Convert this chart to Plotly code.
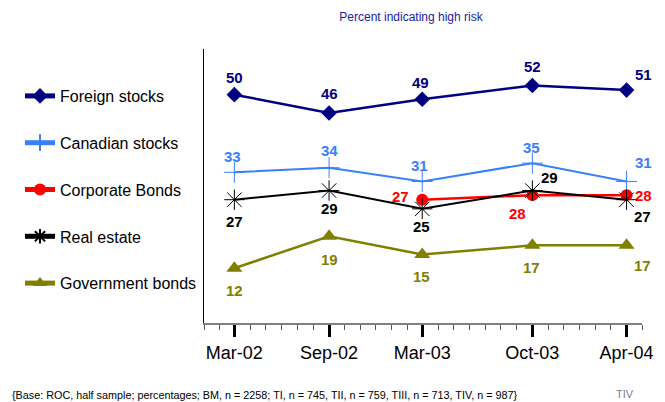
import plotly.graph_objects as go

# Survey waves (plotted on a true monthly time axis)
wave_dates = ["2002-03-01", "2002-09-01", "2003-03-01", "2003-10-01", "2004-04-01"]
wave_labels = ["Mar-02", "Sep-02", "Mar-03", "Oct-03", "Apr-04"]

# Percent indicating high risk, by investment type
foreign_stocks = [50, 46, 49, 52, 51]
canadian_stocks = [33, 34, 31, 35, 31]
corporate_bonds = [None, None, 27, 28, 28]
real_estate = [27, 29, 25, 29, 27]
government_bonds = [12, 19, 15, 17, 17]

series_names = ["Foreign stocks", "Canadian stocks", "Corporate Bonds", "Real estate", "Government bonds"]
series_values = [foreign_stocks, canadian_stocks, corporate_bonds, real_estate, government_bonds]

# Styling per series
colors = ["#000080", "#3a80f8", "#ff0000", "#000000", "#808000"]
symbols = ["diamond", "cross-thin-open", "circle", "asterisk-open", "triangle-up"]
msizes = [12, 15, 12, 17, 14]
lwidths = [2.5, 2, 2.5, 2, 2.5]

# Pixel offsets (dx, dy; screen direction) of each value label from its point
label_offsets = [
    [(0, -17), (0, -19), (-2, -17), (0, -19), (17, -16)],
    [(-2, -16), (0, -17), (-3, -16), (-1, -16), (17, -19)],
    [None, None, (-22, -3), (-15, 18), (17, 0)],
    [(0, 22), (0, 18), (-1, 18), (17, -13), (16, 17)],
    [(0, 22), (0, 23), (-1, 22), (-1, 22), (16, 20)],
]

FONT = "Liberation Sans, Arial, sans-serif"

fig = go.Figure()
annotations = []
for i, (name, vals) in enumerate(zip(series_names, series_values)):
    marker = dict(symbol=symbols[i], size=msizes[i], color=colors[i])
    if symbols[i].endswith("open"):
        marker["line"] = dict(color=colors[i], width=1)
    fig.add_trace(go.Scatter(
        x=wave_dates, y=vals, name=name, mode="lines+markers",
        line=dict(color=colors[i], width=lwidths[i]),
        marker=marker, legendgroup=name, connectgaps=False,
    ))
    for j, v in enumerate(vals):
        if v is None:
            continue
        dx, dy = label_offsets[i][j]
        annotations.append(dict(
            x=wave_dates[j], y=v, xref="x", yref="y", text=str(v),
            showarrow=False, xshift=dx, yshift=-dy,
            font=dict(family=FONT, size=15, color=colors[i], weight="bold"),
        ))

annotations.append(dict(
    x=-0.443, y=-0.263, xref="paper", yref="paper", xanchor="left", yanchor="middle",
    text="{Base: ROC, half sample; percentages; BM, n = 2258; TI, n = 745, TII, n = 759, "
         "TIII, n = 713, TIV, n = 987}",
    showarrow=False, font=dict(family=FONT, size=10.8, color="#000000"),
))
annotations.append(dict(
    x=0.936, y=-0.259, xref="paper", yref="paper", xanchor="left", yanchor="middle",
    text="TIV", showarrow=False, font=dict(family=FONT, size=11, color="#808080"),
))

x_range = ["2002-01-01", "2004-05-01"]

fig.update_layout(
    width=665, height=402,
    margin=dict(l=204, r=23, t=49, b=79, autoexpand=False),
    paper_bgcolor="white", plot_bgcolor="white",
    title=dict(text="Percent indicating high risk", x=411 / 665, xanchor="center",
               y=1 - 17 / 402, yanchor="middle", yref="container",
               font=dict(family=FONT, size=12, color="#1a1aa8")),
    showlegend=True,
    legend=dict(xref="container", yref="container", x=20 / 665, y=1 - 79 / 402,
                xanchor="left", yanchor="top", tracegroupgap=23, maxheight=400,
                itemsizing="constant",
                font=dict(family=FONT, size=16, color="#000000"),
                bgcolor="rgba(0,0,0,0)", borderwidth=0),
    xaxis=dict(type="date", range=x_range, showgrid=False, zeroline=False,
               showline=True, linecolor="#808080", linewidth=2,
               tickmode="array", tickvals=wave_dates, ticktext=wave_labels,
               ticks="outside", ticklen=12, tickwidth=3, tickcolor="#000000",
               tickfont=dict(family=FONT, size=18, color="#000000"),
               minor=dict(dtick="M1", tick0="2002-01-01", ticks="outside",
                          ticklen=5, tickwidth=1, tickcolor="#555555", showgrid=False)),
    xaxis2=dict(type="date", range=x_range, overlaying="x", anchor="y", side="bottom",
                showgrid=False, zeroline=False, showline=False,
                tickmode="array", tickvals=wave_dates, showticklabels=False,
                ticks="inside", ticklen=9, tickwidth=3, tickcolor="#000000"),
    yaxis=dict(range=[0, 60], showgrid=False, zeroline=False, showline=True,
               linecolor="#000000", linewidth=1, ticks="", showticklabels=False),
    annotations=annotations,
)

fig.write_html("out.html")
